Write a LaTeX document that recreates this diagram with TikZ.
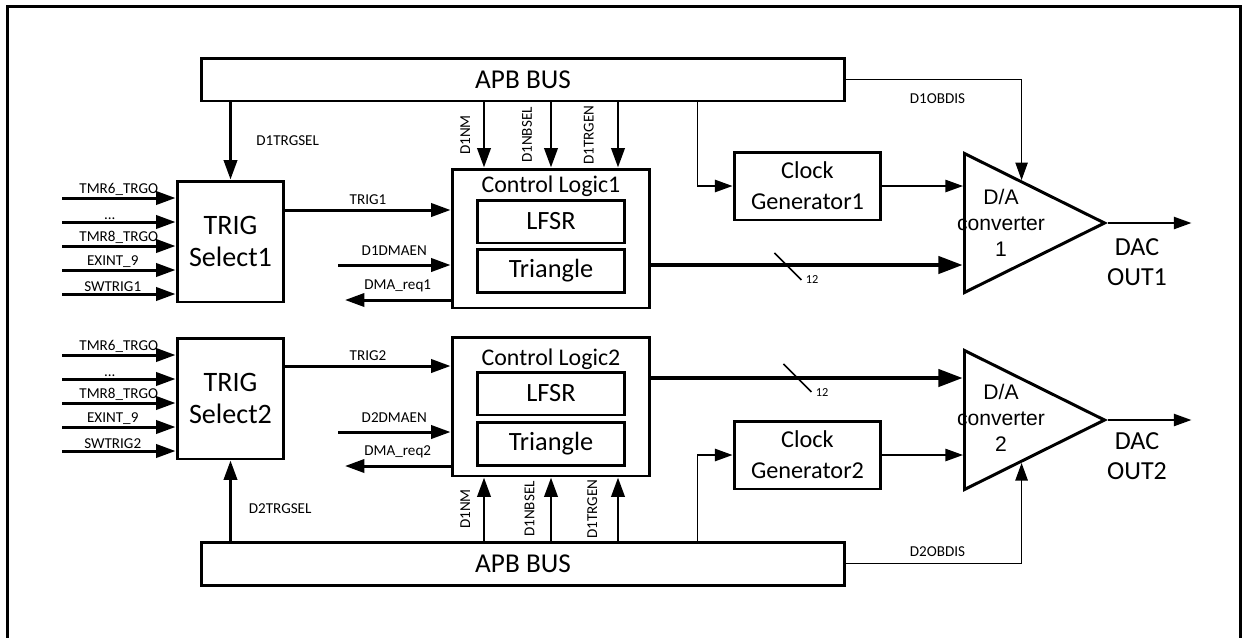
\documentclass[tikz,border=0pt]{standalone}
\usepackage{fontspec}
\setmainfont{Carlito}
\newfontfamily\arialfont{Liberation Sans}
\usepackage{tikz}
\usetikzlibrary{shapes.geometric, arrows.meta, positioning, calc}
\tikzstyle{bus} = [rectangle, draw=black, line width=1.7pt, minimum width=12.88cm,
 minimum height=0.86cm, font=\fontsize{15.5}{18}\selectfont]
\tikzstyle{trigsel} = [rectangle, draw=black, line width=1.7pt, minimum width=2.14cm,
 minimum height=2.42cm, align=center, font=\fontsize{16}{18.5}\selectfont]
\tikzstyle{ctrl} = [rectangle, draw=black, line width=1.7pt, minimum width=3.96cm,
 minimum height=2.78cm]
\tikzstyle{sub} = [rectangle, draw=black, line width=1.7pt, minimum width=2.96cm,
 minimum height=0.86cm, font=\fontsize{15}{17}\selectfont]
\tikzstyle{clock} = [rectangle, draw=black, line width=1.7pt, minimum width=2.94cm,
 minimum height=1.36cm, align=center, font=\fontsize{13.8}{17.5}\selectfont]
\tikzstyle{dac} = [isosceles triangle, isosceles triangle stretches, draw=black,
 line width=1.7pt, minimum width=2.78cm, minimum height=2.8cm, inner sep=0pt]
\tikzstyle{title} = [font=\fontsize{13.6}{15}\selectfont, inner sep=0pt]
\tikzstyle{datext} = [align=center, font=\arialfont\fontsize{12}{14.7}\selectfont, inner sep=0pt]
\tikzstyle{outtext} = [align=center, font=\fontsize{14.8}{17}\selectfont, inner sep=0pt]
\tikzstyle{sig} = [font=\fontsize{8.6}{10}\selectfont, inner sep=2.5pt]
\tikzstyle{insig} = [font=\fontsize{8.6}{10}\selectfont, inner sep=0.6pt]
\tikzstyle{arrow} = [line width=1.7pt, -{Triangle[length=11pt, width=7.5pt]}]
\tikzstyle{thinarrow} = [line width=0.9pt, -{Triangle[length=10pt, width=7pt]}]
\tikzstyle{busarrow} = [line width=2.8pt, -{Triangle[length=14pt, width=9.5pt]}]

\begin{document}
\begin{tikzpicture}[x=0.02cm, y=0.02cm]
\useasboundingbox (0,0) rectangle (1245,-637);
\draw[line width=1.7pt] (7.5,-6.7) rectangle (1240,-680);

\node(apb1) [bus] at (523,-79.5) {APB BUS};
\node(apb2) [bus] at (523,-563.5) {APB BUS};
\node(trig1) [trigsel] at (230.5,-241.5) {TRIG\\Select1};
\node(trig2) [trigsel] at (230.5,-398.5) {TRIG\\Select2};
\node(ctl1) [ctrl] at (551,-238.5) {};
\node(ctl2) [ctrl] at (551,-406.5) {};
\node(ctl1name) [title] at (551,-186) {Control Logic1};
\node(ctl2name) [title] at (551,-359) {Control Logic2};
\node(lfsr1) [sub] at (551,-221.5) {LFSR};
\node(tri1) [sub] at (551,-271) {Triangle};
\node(lfsr2) [sub] at (551,-393.5) {LFSR};
\node(tri2) [sub] at (551,-444) {Triangle};
\node(clk1) [clock] at (807.5,-186) {Clock\\Generator1};
\node(clk2) [clock] at (807.5,-455) {Clock\\Generator2};
\node(dac1) [dac, anchor=lower side] at (963,-223) {};
\node(dac2) [dac, anchor=lower side] at (963,-420) {};
\node(dac1name) [datext] at (1001,-223) {D/A\\converter\\1};
\node(dac2name) [datext] at (1001,-418) {D/A\\converter\\2};
\node(out1) [outtext] at (1137,-262) {DAC\\OUT1};
\node(out2) [outtext] at (1137,-456) {DAC\\OUT2};

\coordinate(in11) at (62,-198);
\coordinate(in12) at (62,-222);
\coordinate(in13) at (62,-246);
\coordinate(in14) at (62,-270);
\coordinate(in15) at (62,-294);
\coordinate(in21) at (62,-355);
\coordinate(in22) at (62,-379);
\coordinate(in23) at (62,-403);
\coordinate(in24) at (62,-427);
\coordinate(in25) at (62,-451);
\coordinate(trg1) at ($(trig1.east)+(0,31.5)$);
\coordinate(trg2) at ($(trig2.east)+(0,32.5)$);
\coordinate(en1) at (338,-265);
\coordinate(en2) at (338,-432);
\coordinate(rq1) at (345,-300);
\coordinate(rq2) at (345,-466);
\coordinate(nm1) at ($(ctl1.north)+(-67,0)$);
\coordinate(nb1) at (ctl1.north);
\coordinate(tg1) at ($(ctl1.north)+(67,0)$);
\coordinate(nm2) at ($(ctl2.south)+(-67,0)$);
\coordinate(nb2) at (ctl2.south);
\coordinate(tg2) at ($(ctl2.south)+(67,0)$);
\coordinate(tap1) at ($(clk1.west)+(-35,0)$);
\coordinate(tap2) at ($(clk2.west)+(-35,0)$);
\coordinate(bus1) at ($(ctl1.east)+(0,-26.5)$);
\coordinate(bus2) at ($(ctl2.east)+(0,28.5)$);
\coordinate(ob1) at ($(dac1.left corner)!0.403!(dac1.apex)$);
\coordinate(ob2) at ($(dac2.right corner)!0.403!(dac2.apex)$);
\coordinate(end1) at ($(dac1.apex)+(83,0)$);
\coordinate(end2) at ($(dac2.apex)+(83,0)$);

\draw[arrow] (in11) -- (in11 -| trig1.west) node[insig, anchor=south, midway] {TMR6\_TRGO};
\draw[arrow] (in12) -- (in12 -| trig1.west) node[insig, anchor=south, midway, xshift=-0.18cm] {...};
\draw[arrow] (in13) -- (in13 -| trig1.west) node[insig, anchor=south, midway] {TMR8\_TRGO};
\draw[arrow] (in14) -- (in14 -| trig1.west) node[insig, anchor=south, midway, xshift=-0.12cm] {EXINT\_9};
\draw[arrow] (in15) -- (in15 -| trig1.west) node[insig, anchor=south, midway, xshift=-0.12cm] {SWTRIG1};
\draw[arrow] (in21) -- (in21 -| trig2.west) node[insig, anchor=south, midway] {TMR6\_TRGO};
\draw[arrow] (in22) -- (in22 -| trig2.west) node[insig, anchor=south, midway, xshift=-0.18cm] {...};
\draw[arrow] (in23) -- (in23 -| trig2.west) node[insig, anchor=south, midway] {TMR8\_TRGO};
\draw[arrow] (in24) -- (in24 -| trig2.west) node[insig, anchor=south, midway, xshift=-0.12cm] {EXINT\_9};
\draw[arrow] (in25) -- (in25 -| trig2.west) node[insig, anchor=south, midway, xshift=-0.12cm] {SWTRIG2};
\draw[arrow] (apb1.south -| trig1.north) -- (trig1.north) node[sig, anchor=west, midway, xshift=0.4cm] {D1TRGSEL};
\draw[arrow] (apb2.north -| trig2.south) -- (trig2.south) node[sig, anchor=west, pos=0.4, xshift=0.25cm] {D2TRGSEL};
\draw[arrow] (trg1) -- (trg1 -| ctl1.west) node[sig, anchor=south, midway] {TRIG1};
\draw[arrow] (trg2) -- (trg2 -| ctl2.west) node[sig, anchor=south, midway] {TRIG2};
\draw[arrow] (en1) -- (en1 -| ctl1.west) node[sig, anchor=south, midway, yshift=2pt] {D1DMAEN};
\draw[arrow] (en2) -- (en2 -| ctl2.west) node[sig, anchor=south, midway, yshift=2pt] {D2DMAEN};
\draw[arrow] (rq1 -| ctl1.west) -- (rq1) node[sig, anchor=south, midway, yshift=1pt] {DMA\_req1};
\draw[arrow] (rq2 -| ctl2.west) -- (rq2) node[sig, anchor=south, midway, yshift=1pt] {DMA\_req2};
\draw[arrow] (nm1 |- apb1.south) -- (nm1) node[sig, rotate=90, anchor=south, midway, inner sep=7pt] {D1NM};
\draw[arrow] (nb1 |- apb1.south) -- (nb1) node[sig, rotate=90, anchor=south, midway, inner sep=10pt] {D1NBSEL};
\draw[arrow] (tg1 |- apb1.south) -- (tg1) node[sig, rotate=90, anchor=south, midway, inner sep=13pt] {D1TRGEN};
\draw[arrow] (nm2 |- apb2.north) -- (nm2) node[sig, rotate=90, anchor=south, midway, inner sep=7pt] {D1NM};
\draw[arrow] (nb2 |- apb2.north) -- (nb2) node[sig, rotate=90, anchor=south, midway, inner sep=8.5pt] {D1NBSEL};
\draw[arrow] (tg2 |- apb2.north) -- (tg2) node[sig, rotate=90, anchor=south, midway, inner sep=11pt] {D1TRGEN};
\draw[thinarrow] (tap1 |- apb1.south) |- (clk1.west);
\draw[thinarrow] (tap2 |- apb2.north) |- (clk2.west);
\draw[thinarrow] (clk1.east) -- (clk1.east -| dac1.lower side);
\draw[thinarrow] (clk2.east) -- (clk2.east -| dac2.lower side);
\draw[thinarrow] (apb1.east) -| (ob1) node[sig, anchor=north, pos=0.26, yshift=-5pt] {D1OBDIS};
\draw[thinarrow] (apb2.east) -| (ob2) node[sig, anchor=south, pos=0.26, yshift=1pt] {D2OBDIS};
\draw[busarrow] (bus1) -- (bus1 -| dac1.lower side);
\draw[busarrow] (bus2) -- (bus2 -| dac2.lower side);
\draw[line width=0.9pt] ($(bus1)+(123,12)$) -- ++(27,-27) node[font=\fontsize{7}{8}\selectfont, anchor=west, inner sep=2pt] {12};
\draw[line width=0.9pt] ($(bus2)+(132,14)$) -- ++(28,-28) node[font=\fontsize{7}{8}\selectfont, anchor=west, inner sep=2pt] {12};
\draw[thinarrow] (dac1.apex) -- (end1);
\draw[thinarrow] (dac2.apex) -- (end2);
\end{tikzpicture}
\end{document}
